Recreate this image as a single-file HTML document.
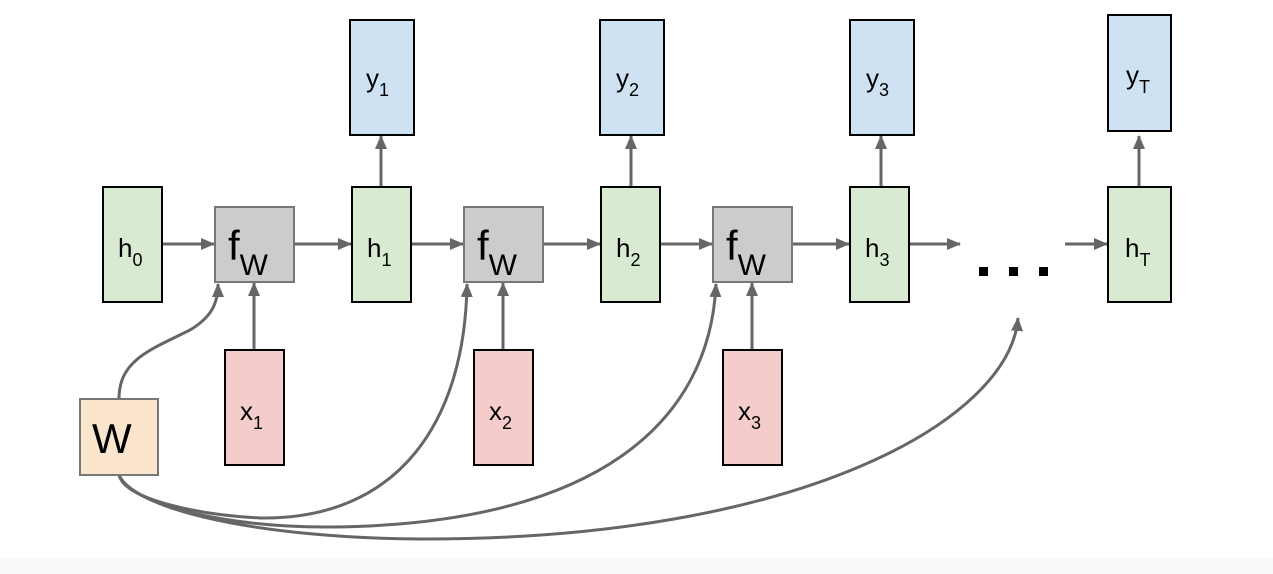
<!DOCTYPE html>
<html><head><meta charset="utf-8"><style>
html,body{margin:0;padding:0;background:#fff;}
svg{display:block;}
text{font-family:"Liberation Sans",Arial,sans-serif;fill:#000;}
</style></head><body>
<svg width="1273" height="574" viewBox="0 0 1273 574" xmlns="http://www.w3.org/2000/svg">
<defs>
<marker id="a" markerWidth="10" markerHeight="10" refX="9" refY="5" orient="auto" markerUnits="userSpaceOnUse" viewBox="0 0 10 10">
<path d="M0,0 L10,5 L0,10 z" fill="#666"/>
</marker>
<marker id="b" markerWidth="14" markerHeight="12" refX="13" refY="6" orient="auto" markerUnits="userSpaceOnUse" viewBox="0 0 14 12">
<path d="M0,0 L14,6 L0,12 z" fill="#666"/>
</marker>
</defs>
<rect x="0" y="558" width="1273" height="16" fill="#fafafa"/>
<g stroke="#666" stroke-width="3" fill="none">
<!-- horizontal arrows -->
<line x1="162" y1="244" x2="214" y2="244" marker-end="url(#b)"/>
<line x1="294" y1="244" x2="351" y2="244" marker-end="url(#b)"/>
<line x1="411" y1="244" x2="463" y2="244" marker-end="url(#b)"/>
<line x1="543" y1="244" x2="600" y2="244" marker-end="url(#b)"/>
<line x1="660" y1="244" x2="712" y2="244" marker-end="url(#b)"/>
<line x1="792" y1="244" x2="849" y2="244" marker-end="url(#b)"/>
<line x1="909" y1="244" x2="960" y2="244" marker-end="url(#b)"/>
<line x1="1065" y1="244" x2="1107" y2="244" marker-end="url(#b)"/>
<!-- vertical arrows up to y -->
<line x1="381" y1="187" x2="381" y2="136" marker-end="url(#b)"/>
<line x1="631" y1="187" x2="631" y2="136" marker-end="url(#b)"/>
<line x1="881" y1="187" x2="881" y2="136" marker-end="url(#b)"/>
<line x1="1139" y1="187" x2="1139" y2="136" marker-end="url(#b)"/>
<!-- x to f -->
<line x1="254" y1="350" x2="254" y2="283" marker-end="url(#b)"/>
<line x1="503" y1="350" x2="503" y2="283" marker-end="url(#b)"/>
<line x1="752" y1="350" x2="752" y2="283" marker-end="url(#b)"/>
<!-- W curves -->
<path d="M119,399 C119,360 150,350 190,330 C210,318 218,305 218,284" marker-end="url(#b)"/>
<path d="M119,475 C125,500 200,515 260,518 C400,520 465,420 467,284" marker-end="url(#b)"/>
<path d="M119,475 C130,505 230,528 330,527 C600,525 710,420 716,284" marker-end="url(#b)"/>
<path d="M119,475 C135,510 260,538 420,539 C800,540 1010,420 1018,318" marker-end="url(#b)"/>
</g>
<g stroke="#000" stroke-width="2">
<rect x="103" y="187" width="59" height="115" fill="#d9ead3"/>
<rect x="352" y="187" width="59" height="115" fill="#d9ead3"/>
<rect x="601" y="187" width="59" height="115" fill="#d9ead3"/>
<rect x="850" y="187" width="59" height="115" fill="#d9ead3"/>
<rect x="1108" y="187" width="63" height="115" fill="#d9ead3"/>
<rect x="350" y="20" width="64" height="115" fill="#cfe2f3"/>
<rect x="600" y="20" width="64" height="115" fill="#cfe2f3"/>
<rect x="850" y="20" width="64" height="115" fill="#cfe2f3"/>
<rect x="1108" y="15" width="63" height="116" fill="#cfe2f3"/>
<rect x="225" y="350" width="59" height="115" fill="#f4cccc"/>
<rect x="474" y="350" width="59" height="115" fill="#f4cccc"/>
<rect x="723" y="350" width="59" height="115" fill="#f4cccc"/>
</g>
<g stroke="#777" stroke-width="2">
<rect x="215" y="207" width="79" height="75" fill="#cccccc"/>
<rect x="464" y="207" width="79" height="75" fill="#cccccc"/>
<rect x="713" y="207" width="79" height="75" fill="#cccccc"/>
<rect x="80" y="399" width="78" height="76" fill="#fce5cd"/>
</g>
<g font-size="26">
<text x="118" y="257">h<tspan font-size="18" dy="9">0</tspan></text>
<text x="367" y="257">h<tspan font-size="18" dy="9">1</tspan></text>
<text x="616" y="257">h<tspan font-size="18" dy="9">2</tspan></text>
<text x="865" y="257">h<tspan font-size="18" dy="9">3</tspan></text>
<text x="1125" y="257">h<tspan font-size="18" dy="9">T</tspan></text>
<text x="366" y="87">y<tspan font-size="18" dy="9">1</tspan></text>
<text x="616" y="87">y<tspan font-size="18" dy="9">2</tspan></text>
<text x="866" y="87">y<tspan font-size="18" dy="9">3</tspan></text>
<text x="1126" y="84">y<tspan font-size="18" dy="9">T</tspan></text>
<text x="240" y="420">x<tspan font-size="18" dy="9">1</tspan></text>
<text x="489" y="420">x<tspan font-size="18" dy="9">2</tspan></text>
<text x="738" y="420">x<tspan font-size="18" dy="9">3</tspan></text>
</g>
<g font-size="42">
<text x="228" y="260">f<tspan font-size="30" dy="15">W</tspan></text>
<text x="477" y="260">f<tspan font-size="30" dy="15">W</tspan></text>
<text x="726" y="260">f<tspan font-size="30" dy="15">W</tspan></text>
<text x="92" y="453">W</text>
</g>
<g fill="#000">
<rect x="979" y="267" width="9" height="9"/>
<rect x="1009" y="267" width="9" height="9"/>
<rect x="1039" y="267" width="9" height="9"/>
</g>
</svg>
</body></html>
